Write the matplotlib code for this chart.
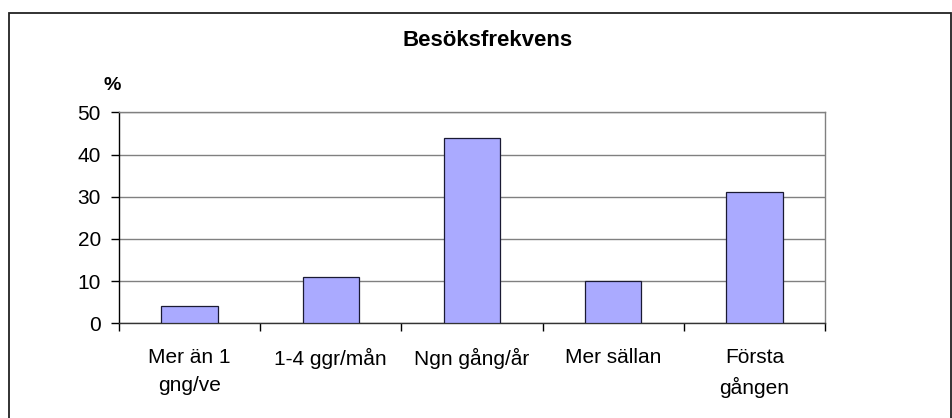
import matplotlib.pyplot as plt
import numpy as np
from matplotlib.patches import Rectangle

plt.rcParams['font.family'] = ['Liberation Sans', 'DejaVu Sans']

# data
categories = ['Mer än 1\ngng/ve', '1-4 ggr/mån', 'Ngn gång/år', 'Mer sällan', 'Första\ngången']
values = [4, 11, 44, 10, 31]
yticks = [0, 10, 20, 30, 40, 50]

fig = plt.figure(figsize=(9.53, 4.18), dpi=100)
ax = fig.add_axes([119 / 953, 94.7 / 418, 706 / 953, 211 / 418])

x = np.arange(len(categories))
ax.bar(x, values, width=0.4, color='#AAAAFF', edgecolor='#1a1a33', linewidth=0.9, zorder=3)

ax.set_xlim(-0.5, len(categories) - 0.5)
ax.set_ylim(0, 50)
ax.set_yticks(yticks)
ax.set_yticklabels([str(v) for v in yticks], fontsize=15)

# category labels sit between boundary ticks, like Excel
ax.set_xticks(np.arange(len(categories) + 1) - 0.5)
ax.set_xticklabels([])
ax.set_xticks(x, minor=True)
ax.set_xticklabels(categories, minor=True, fontsize=15, linespacing=1.63, va='top')
ax.tick_params(axis='x', which='minor', length=0, pad=17.5)
ax.tick_params(axis='x', which='major', direction='out', length=6, width=1, color='black')
ax.tick_params(axis='y', direction='out', length=6, width=1, color='black', pad=7)

ax.yaxis.grid(True, color='#808080', linewidth=1)
ax.set_axisbelow(True)

ax.spines['left'].set_color('black')
ax.spines['bottom'].set_color('#333333')
ax.spines['top'].set_color('#808080')
ax.spines['right'].set_color('#808080')
for s in ax.spines.values():
    s.set_linewidth(1)

fig.text(488 / 953, 1 - 41 / 418, 'Besöksfrekvens', ha='center', va='center',
         fontsize=16, fontweight='bold')
fig.text(112 / 953, 1 - 85 / 418, '%', ha='center', va='center',
         fontsize=14, fontweight='bold')

# outer chart border
fig.patches.append(Rectangle((9 / 953, -0.05), 942 / 953, 1.05 - 13 / 418,
                             transform=fig.transFigure, fill=False,
                             edgecolor='#222222', linewidth=1.3))

fig.savefig('out.png', dpi=100)
